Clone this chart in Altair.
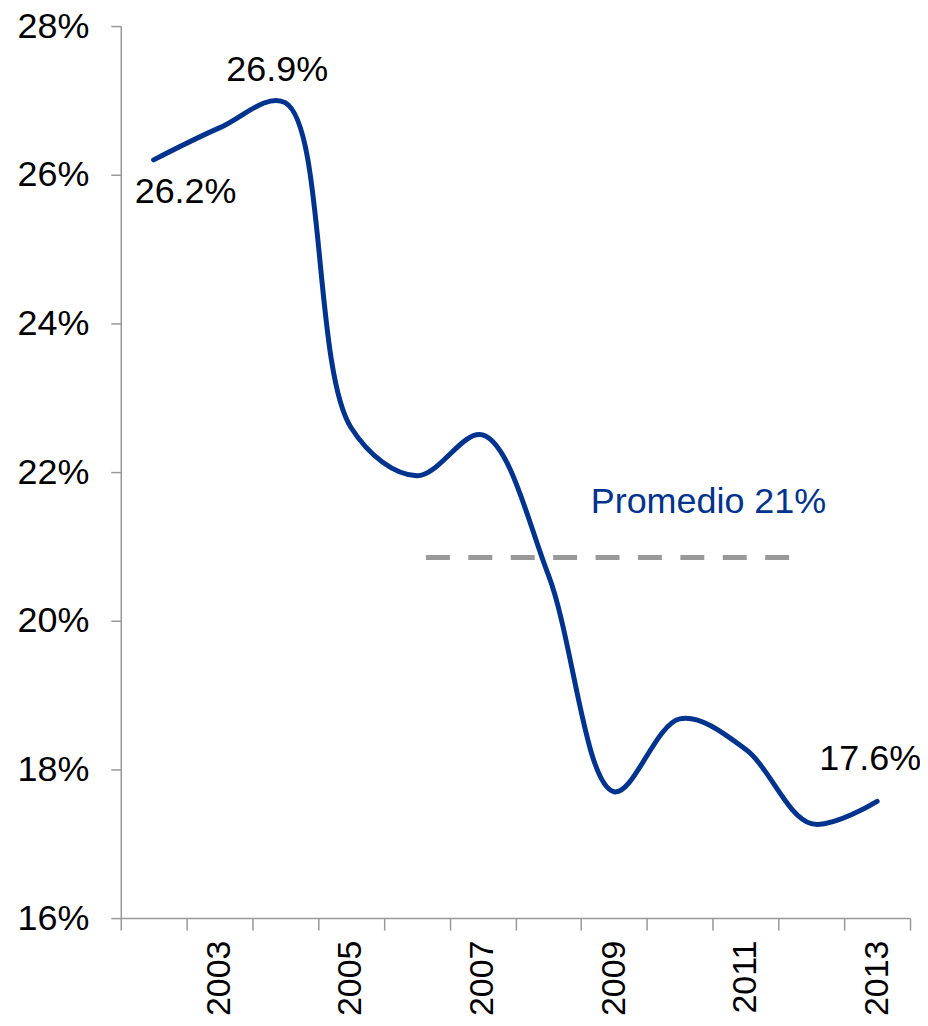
import altair as alt
import pandas as pd

years = [2002, 2003, 2004, 2005, 2006, 2007, 2008, 2009, 2010, 2011, 2012, 2013]
values = [26.2, 26.63, 26.97, 22.6, 21.95, 22.5, 20.62, 17.7, 18.68, 18.27, 17.27, 17.57]

avg_start = 2006.14
avg_end = 2011.68
avg_value = 20.85
avg_label = "Promedio 21%"

first_label = "26.2%"
peak_label = "26.9%"
last_label = "17.6%"

y_ticks = [16, 18, 20, 22, 24, 26, 28]

BLUE = "#00338D"
GRAY = "#999999"
FONT = "Liberation Sans"
FS = 36

df = pd.DataFrame({"year": years, "value": values})
half_years = [years[0] - 0.5 + i for i in range(len(years) + 1)]

xscale = alt.Scale(domain=[years[0] - 0.5, years[-1] + 0.5], nice=False, zero=False)
yscale = alt.Scale(domain=[y_ticks[0], y_ticks[-1]], nice=False, zero=False)

x_axis = alt.Axis(
    values=half_years,
    labelExpr="(datum.value % 2 == 0.5) ? format(datum.value + 0.5, 'd') : ''",
    labelOffset=33,
    labelAngle=-90,
    labelAlign="right",
    labelBaseline="middle",
    labelPadding=10,
    labelFontSize=34,
    labelOverlap=False,
    labelFlush=False,
    tickSize=12,
    grid=False,
    title=None,
)
y_axis = alt.Axis(
    values=y_ticks,
    labelExpr="datum.value + '%'",
    tickSize=10,
    labelPadding=22,
    grid=False,
    title=None,
)

line = alt.Chart(df).mark_line(
    color=BLUE, strokeWidth=5, interpolate="catmull-rom", strokeCap="round"
).encode(
    x=alt.X("year:Q", scale=xscale, axis=x_axis),
    y=alt.Y("value:Q", scale=yscale, axis=y_axis),
)

avg_df = pd.DataFrame({"x1": [avg_start], "x2": [avg_end], "y": [avg_value], "label": [avg_label]})
rule = alt.Chart(avg_df).mark_rule(color=GRAY, strokeWidth=5, strokeDash=[24, 18.5]).encode(
    x="x1:Q", x2="x2:Q", y="y:Q"
)
avg_text = alt.Chart(avg_df).mark_text(
    color=BLUE, font=FONT, fontSize=FS, align="right", baseline="alphabetic", dx=36, dy=-45
).encode(x="x2:Q", y="y:Q", text="label:N")

lab_first = pd.DataFrame({"year": [years[0]], "value": [values[0]], "label": [first_label]})
lab_peak = pd.DataFrame({"year": [years[2]], "value": [values[2]], "label": [peak_label]})
lab_last = pd.DataFrame({"year": [years[-1]], "value": [values[-1]], "label": [last_label]})

t1 = alt.Chart(lab_first).mark_text(font=FONT, fontSize=FS, color="black", align="center",
                                    baseline="alphabetic", dx=32, dy=43).encode(
    x="year:Q", y="value:Q", text="label:N")
t2 = alt.Chart(lab_peak).mark_text(font=FONT, fontSize=FS, color="black", align="center",
                                   baseline="alphabetic", dx=-8, dy=-22).encode(
    x="year:Q", y="value:Q", text="label:N")
t3 = alt.Chart(lab_last).mark_text(font=FONT, fontSize=FS, color="black", align="center",
                                   baseline="alphabetic", dx=-7, dy=-31).encode(
    x="year:Q", y="value:Q", text="label:N")

chart = alt.layer(rule, line, avg_text, t1, t2, t3).properties(
    width=791,
    height=894,
    autosize=alt.AutoSizeParams(type="none"),
    padding={"left": 113, "top": 17, "right": 10, "bottom": 99},
).configure_view(stroke=None).configure_axis(
    domainColor=GRAY, domainWidth=1.5, tickColor=GRAY, tickWidth=1.5,
    labelFont=FONT, labelFontSize=FS, labelColor="black",
)

chart.save("out.html", embed_options={"renderer": "svg", "actions": False})
